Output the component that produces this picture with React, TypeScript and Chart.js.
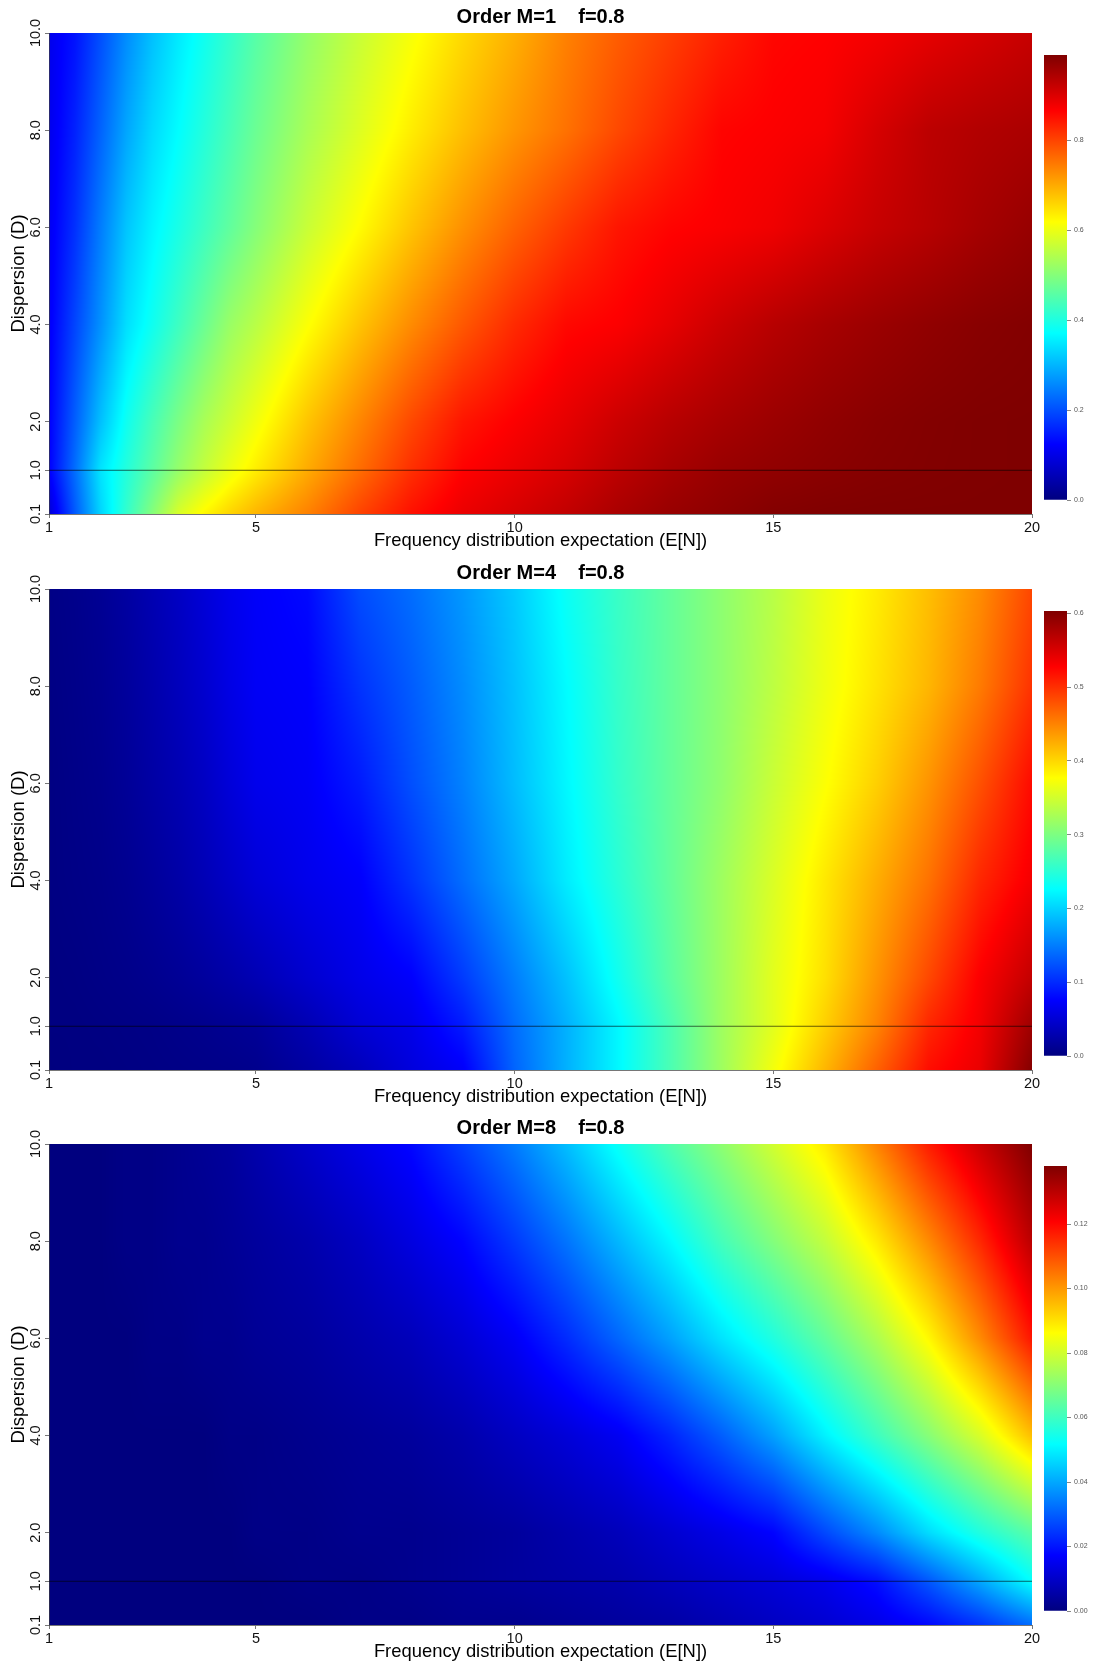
import React, { useEffect, useRef } from "react";
import { Chart, registerables } from "chart.js";

Chart.register(...registerables);

const FONT = "'Liberation Sans', Arial, sans-serif";

const expectationValues = [1, 1.5, 2, 2.5, 3, 3.5, 4, 4.5, 5, 6, 7, 8, 9, 10, 11, 12, 13, 14, 15, 16, 17, 18, 19, 20];
const dispersionValues = [0.1, 1, 2, 4, 6, 8, 10];

const xTickValues = [1, 5, 10, 15, 20];
const yTickValues = [0.1, 1, 2, 4, 6, 8, 10];

const titles = ["Order M=1    f=0.8", "Order M=4    f=0.8", "Order M=8    f=0.8"];
const xAxisLabel = "Frequency distribution expectation (E[N])";
const yAxisLabel = "Dispersion (D)";

// Rows go with dispersionValues, columns with expectationValues.
const orderM1 = [
  [.08, .21, .33, .42, .50, .58, .625, .66, .69, .74, .80, .85, .885, .905, .925, .948, .965, .975, .985, .988, .989, .989, .989, .989],
  [.12, .23, .345, .405, .46, .515, .56, .60, .635, .70, .76, .82, .865, .885, .905, .93, .95, .965, .972, .978, .983, .986, .988, .989],
  [.12, .215, .31, .385, .44, .49, .535, .57, .605, .675, .735, .795, .845, .868, .89, .915, .935, .95, .962, .972, .98, .985, .988, .989],
  [.115, .19, .265, .34, .385, .43, .475, .52, .55, .615, .675, .73, .78, .825, .858, .868, .89, .915, .935, .95, .962, .972, .98, .985],
  [.11, .17, .245, .315, .36, .395, .43, .465, .50, .565, .62, .675, .725, .77, .81, .845, .862, .87, .88, .90, .92, .935, .952, .966],
  [.105, .155, .22, .285, .335, .37, .405, .44, .475, .535, .585, .635, .68, .72, .755, .795, .83, .862, .868, .875, .905, .93, .94, .947],
  [.105, .14, .20, .26, .31, .35, .385, .42, .455, .515, .565, .61, .655, .695, .74, .775, .805, .835, .86, .865, .875, .89, .905, .92],
];
const orderM4 = [
  [0, .001, .001, .002, .003, .004, .005, .006, .008, .02, .035, .055, .072, .135, .18, .222, .27, .32, .37, .42, .47, .52, .54, .60],
  [.001, .001, .002, .003, .004, .006, .008, .011, .014, .03, .05, .062, .09, .14, .18, .222, .27, .32, .36, .405, .45, .505, .535, .585],
  [.001, .002, .004, .006, .009, .013, .018, .024, .031, .047, .062, .074, .11, .15, .19, .235, .28, .32, .36, .395, .44, .485, .53, .563],
  [.002, .004, .006, .01, .016, .023, .032, .042, .052, .064, .073, .105, .14, .175, .215, .25, .285, .32, .355, .39, .425, .46, .505, .534],
  [.002, .005, .008, .014, .022, .03, .04, .053, .064, .07, .09, .122, .152, .187, .222, .256, .285, .312, .345, .375, .405, .44, .48, .522],
  [.003, .006, .01, .017, .026, .036, .047, .06, .07, .074, .105, .13, .158, .19, .225, .258, .285, .31, .338, .367, .393, .42, .455, .498],
  [.004, .007, .012, .02, .03, .04, .052, .064, .072, .08, .12, .14, .165, .195, .232, .26, .285, .31, .335, .365, .388, .415, .445, .486],
];
const orderM8 = [
  [0, 0, 0, 0, 0, 0, 0, 0, 0, 0, .001, .001, .002, .002, .003, .004, .005, .007, .009, .011, .014, .018, .024, .032],
  [0, 0, 0, 0, 0, 0, 0, 0, 0, .001, .001, .002, .003, .004, .005, .006, .008, .01, .012, .0145, .019, .029, .04, .052],
  [0, 0, 0, 0, 0, 0, 0, 0, .001, .001, .002, .002, .003, .004, .006, .008, .011, .014, .0175, .027, .036, .047, .056, .064],
  [0, 0, 0, 0, 0, 0, 0, .001, .001, .002, .003, .004, .006, .009, .012, .0155, .022, .03, .039, .05, .06, .07, .081, .095],
  [0, 0, 0, 0, .001, .001, .002, .002, .003, .004, .006, .008, .0115, .016, .023, .031, .039, .048, .056, .065, .075, .087, .102, .118],
  [0, 0, 0, .001, .001, .002, .002, .003, .004, .006, .009, .013, .0175, .025, .033, .042, .051, .061, .0695, .078, .089, .102, .1155, .13],
  [0, 0, 0, .001, .001, .002, .003, .004, .006, .01, .014, .018, .026, .034, .043, .053, .0625, .071, .08, .089, .103, .117, .128, .138],
];
const fields = [orderM1, orderM4, orderM8];

const colorbarMaxima = [0.989, 0.603, 0.138];
const colorbarTicks = [
  [0, 0.2, 0.4, 0.6, 0.8],
  [0, 0.1, 0.2, 0.3, 0.4, 0.5, 0.6],
  [0, 0.02, 0.04, 0.06, 0.08, 0.1, 0.12],
];
const colorbarDecimals = [1, 1, 2];
const panelTops = [0, 556, 1111];

const jetStops: [number, number, number][] = [
  [0, 0, 127], [0, 0, 255], [0, 127, 255], [0, 255, 255], [127, 255, 127],
  [255, 255, 0], [255, 127, 0], [255, 0, 0], [127, 0, 0],
];

function jet(f: number): [number, number, number] {
  const t = Math.max(0, Math.min(1, f)) * (jetStops.length - 1);
  const i = Math.min(jetStops.length - 2, Math.floor(t));
  const k = t - i;
  const a = jetStops[i], b = jetStops[i + 1];
  return [a[0] + (b[0] - a[0]) * k, a[1] + (b[1] - a[1]) * k, a[2] + (b[2] - a[2]) * k];
}

function locate(list: number[], v: number): [number, number] {
  let i = 0;
  while (i < list.length - 2 && v > list[i + 1]) i++;
  const k = (v - list[i]) / (list[i + 1] - list[i]);
  return [i, Math.max(0, Math.min(1, k))];
}

// Paints the read grid, positioned by the chart's own x and y scales.
const heatPlugin = {
  id: "heat",
  afterLayout(chart: any) {
    // The title is centred over the plot, not over the plot plus the colour bar gutter.
    const block = chart.titleBlock;
    if (block) {
      block.left = chart.chartArea.left;
      block.right = chart.chartArea.right;
    }
  },
  beforeDraw(chart: any, _args: any, opts: any) {
    const { ctx, chartArea, scales } = chart;
    const left = Math.round(chartArea.left), top = Math.round(chartArea.top);
    const w = Math.round(chartArea.right) - left, h = Math.round(chartArea.bottom) - top;
    const image = ctx.createImageData(w, h);
    const cols = [];
    for (let x = 0; x < w; x++) cols.push(locate(expectationValues, scales.x.getValueForPixel(left + x + 0.5)));
    let p = 0;
    for (let y = 0; y < h; y++) {
      const [r, kr] = locate(dispersionValues, scales.y.getValueForPixel(top + y + 0.5));
      const low = opts.field[r], high = opts.field[r + 1];
      for (let x = 0; x < w; x++) {
        const [c, kc] = cols[x];
        const a = low[c] + (low[c + 1] - low[c]) * kc;
        const b = high[c] + (high[c + 1] - high[c]) * kc;
        const rgb = jet((a + (b - a) * kr) / opts.max);
        image.data[p++] = rgb[0];
        image.data[p++] = rgb[1];
        image.data[p++] = rgb[2];
        image.data[p++] = 255;
      }
    }
    ctx.putImageData(image, left, top);
  },
};

function centerRotatedLabels(scale: any) {
  if (scale.__centered) return;
  scale.__centered = true;
  const original = scale._computeLabelItems.bind(scale);
  scale._computeLabelItems = (area: any) =>
    original(area).map((item: any) => ({
      ...item,
      options: { ...item.options, textAlign: "center", translation: [36, item.options.translation[1]] },
    }));
}

function makePanel(canvas: HTMLCanvasElement, index: number) {
  const field = fields[index];
  const max = colorbarMaxima[index];
  const cells = dispersionValues.flatMap((d, r) =>
    expectationValues.map((e, c) => ({ x: e, y: d, v: field[r][c] })),
  );
  return new Chart(canvas, {
    type: "scatter",
    data: {
      datasets: [
        { label: "field", data: cells, pointRadius: 0, pointHoverRadius: 0, showLine: false },
        {
          label: "D=1",
          data: [{ x: 1, y: 1 }, { x: 20, y: 1 }],
          showLine: true,
          pointRadius: 0,
          borderWidth: 1,
          borderColor: "rgba(0,0,0,0.6)",
        },
      ],
    },
    plugins: [heatPlugin],
    options: {
      animation: false,
      responsive: false,
      devicePixelRatio: 1,
      layout: { padding: { left: 0, right: 79, top: 0, bottom: 0 } },
      plugins: {
        legend: { display: false },
        tooltip: { enabled: false },
        heat: { field, max },
        title: {
          display: true,
          text: titles[index],
          color: "#000",
          font: { family: FONT, size: 20, weight: "bold" },
          padding: { top: 5, bottom: 4 },
        },
      },
      scales: {
        x: {
          type: "linear",
          min: 1,
          max: 20,
          afterBuildTicks: (s: any) => { s.ticks = xTickValues.map((value) => ({ value })); },
          afterFit: (s: any) => { s.height = 42; },
          grid: { drawOnChartArea: false, tickLength: 4, color: "#777" },
          border: { color: "rgba(60,60,60,0.7)" },
          ticks: {
            color: "#111",
            font: { family: FONT, size: 14.5 },
            padding: 1,
            maxRotation: 0,
            autoSkip: false,
            callback: (v: any) => String(v),
          },
          title: {
            display: true,
            text: xAxisLabel,
            color: "#000",
            font: { family: FONT, size: 18.4 },
            padding: { top: 0, bottom: 4 },
          },
        },
        y: {
          type: "linear",
          min: 0.1,
          max: 10,
          afterBuildTicks: (s: any) => { s.ticks = yTickValues.map((value) => ({ value })); },
          afterFit: (s: any) => { s.width = 49; centerRotatedLabels(s); },
          grid: { drawOnChartArea: false, tickLength: 4, color: "#777" },
          border: { color: "rgba(60,60,60,0.7)" },
          ticks: {
            color: "#111",
            font: { family: FONT, size: 14.5 },
            minRotation: 90,
            maxRotation: 90,
            autoSkip: false,
            callback: (v: any) => Number(v).toFixed(1),
          },
          title: {
            display: true,
            text: yAxisLabel,
            color: "#000",
            font: { family: FONT, size: 18.5 },
            padding: { top: 8, bottom: 0 },
          },
        },
      },
    } as any,
  });
}

function makeColorbar(canvas: HTMLCanvasElement, index: number) {
  const max = colorbarMaxima[index];
  return new Chart(canvas, {
    type: "bar",
    data: {
      labels: ["scale"],
      datasets: [
        {
          data: [[0, max]] as any,
          barPercentage: 1,
          categoryPercentage: 1,
          backgroundColor: (ctx: any) => {
            const area = ctx.chart.chartArea;
            if (!area) return "#00f";
            const g = ctx.chart.ctx.createLinearGradient(0, area.bottom, 0, area.top);
            jetStops.forEach((c, i) => g.addColorStop(i / (jetStops.length - 1), `rgb(${c[0]},${c[1]},${c[2]})`));
            return g;
          },
        },
      ],
    },
    options: {
      animation: false,
      responsive: false,
      devicePixelRatio: 1,
      layout: { padding: { left: 4, right: 0, top: 10, bottom: 10 } },
      plugins: { legend: { display: false }, tooltip: { enabled: false } },
      scales: {
        x: { display: false },
        y: {
          position: "right",
          min: 0,
          max,
          afterBuildTicks: (s: any) => { s.ticks = colorbarTicks[index].map((value) => ({ value })); },
          afterFit: (s: any) => { s.width = 44; },
          grid: { drawOnChartArea: false, tickLength: 4, color: "#888" },
          border: { display: false },
          ticks: {
            color: "#555",
            font: { family: FONT, size: 7 },
            padding: 3,
            autoSkip: false,
            callback: (v: any) => Number(v).toFixed(colorbarDecimals[index]),
          },
        },
      },
    } as any,
  });
}

export default function App() {
  const panelRefs = useRef<(HTMLCanvasElement | null)[]>([]);
  const barRefs = useRef<(HTMLCanvasElement | null)[]>([]);

  useEffect(() => {
    const charts = titles.flatMap((_, i) => [
      makePanel(panelRefs.current[i]!, i),
      makeColorbar(barRefs.current[i]!, i),
    ]);
    return () => charts.forEach((c) => c.destroy());
  }, []);

  return (
    <div style={{ position: "absolute", left: 0, top: 0, width: 1111, height: 1667, background: "#fff", overflow: "hidden" }}>
      {panelTops.map((top, i) => (
        <React.Fragment key={i}>
          <canvas
            ref={(el) => { panelRefs.current[i] = el; }}
            width={1111}
            height={556}
            style={{ position: "absolute", left: 0, top, display: "block" }}
          />
          <canvas
            ref={(el) => { barRefs.current[i] = el; }}
            width={71}
            height={465}
            style={{ position: "absolute", left: 1040, top: top + 45, display: "block" }}
          />
        </React.Fragment>
      ))}
    </div>
  );
}
